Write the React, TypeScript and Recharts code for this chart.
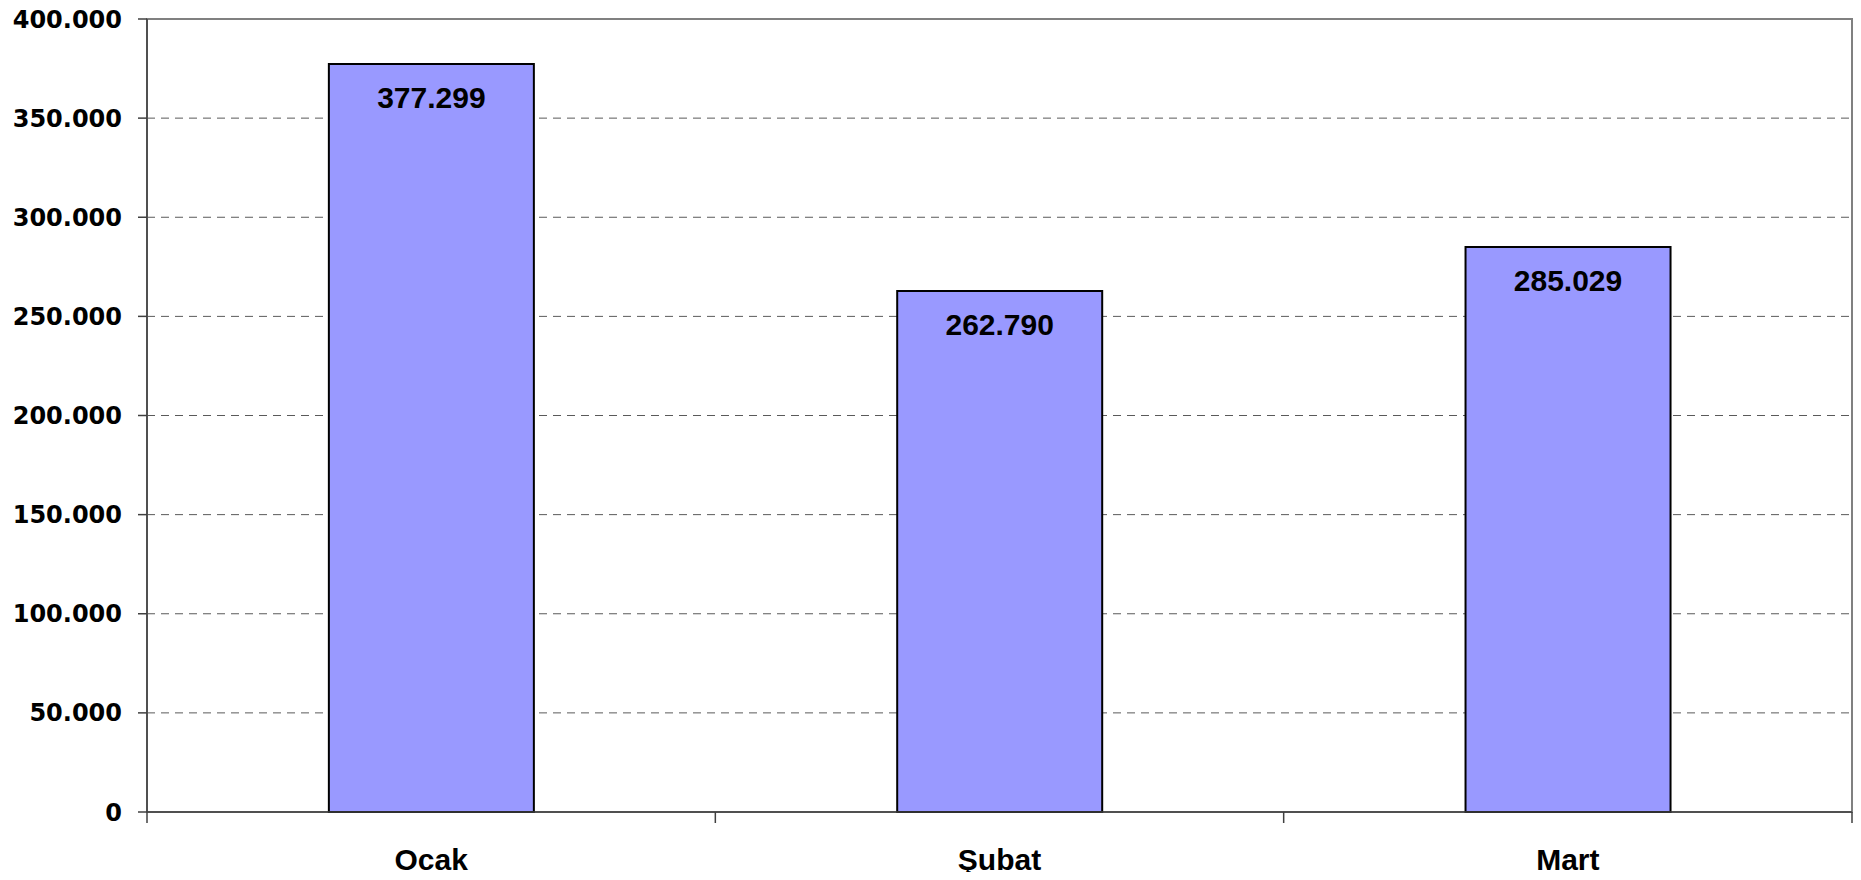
import { Bar, BarChart, CartesianGrid, LabelList, ReferenceArea, XAxis, YAxis } from "recharts";

const months = ["Ocak", "Şubat", "Mart"];
const values = [377299, 262790, 285029];
const yTicks = [0, 50000, 100000, 150000, 200000, 250000, 300000, 350000, 400000];

const data = months.map((m, i) => ({ month: m, value: values[i] }));

// 400000 -> "400.000"
const fmt = (v: number) => String(v).replace(/\B(?=(\d{3})+(?!\d))/g, ".");

const LABEL_GAP = 37;

// category label plus the small tick marks on the band edges
function MonthTick(props: any) {
    const { x, y, payload, index, width, visibleTicksCount } = props;
    const half = width / visibleTicksCount / 2;
    const axisY = y - LABEL_GAP;
    const last = index === visibleTicksCount - 1;
    return (
        <g>
            <line x1={x - half} x2={x - half} y1={axisY} y2={axisY + 11} stroke="#404040" strokeWidth={1.5} />
            {last && <line x1={x + half} x2={x + half} y1={axisY} y2={axisY + 11} stroke="#404040" strokeWidth={1.5} />}
            <text
                x={x}
                y={y}
                dy="0.71em"
                textAnchor="middle"
                fill="#000"
                fontFamily="Liberation Sans"
                fontWeight="bold"
                fontSize={30}
            >
                {payload.value}
            </text>
        </g>
    );
}

export default function App() {
    return (
        <div style={{ margin: -8, width: 1861, height: 880, background: "#fff" }}>
            <BarChart
                width={1861}
                height={880}
                data={data}
                margin={{ top: 19, right: 9, bottom: 0, left: 0 }}
                barCategoryGap="32%"
            >
                <CartesianGrid
                    horizontal
                    vertical={false}
                    stroke="#5a5a5a"
                    strokeDasharray="8 6"
                />
                <ReferenceArea
                    y1={0}
                    y2={400000}
                    fill="none"
                    stroke="#808080"
                    strokeWidth={2}
                    ifOverflow="visible"
                />
                <XAxis
                    dataKey="month"
                    stroke="#404040"
                    strokeWidth={1.5}
                    tickLine={false}
                    tickSize={0}
                    tickMargin={LABEL_GAP}
                    height={68}
                    tick={<MonthTick />}
                />
                <YAxis
                    domain={[0, 400000]}
                    ticks={yTicks}
                    width={147}
                    tickSize={9}
                    tickMargin={16}
                    stroke="#404040"
                    strokeWidth={1.5}
                    tickFormatter={fmt}
                    tick={{ fill: "#000", fontFamily: "DejaVu Sans", fontWeight: "bold", fontSize: 24 }}
                />
                <Bar
                    dataKey="value"
                    fill="#9999FF"
                    stroke="#000"
                    strokeWidth={2}
                    isAnimationActive={false}
                >
                    <LabelList
                        dataKey="value"
                        position="insideTop"
                        offset={23}
                        formatter={(v: number) => fmt(v)}
                        fill="#000"
                        fontFamily="Liberation Sans"
                        fontWeight="bold"
                        fontSize={30}
                    />
                </Bar>
            </BarChart>
        </div>
    );
}
